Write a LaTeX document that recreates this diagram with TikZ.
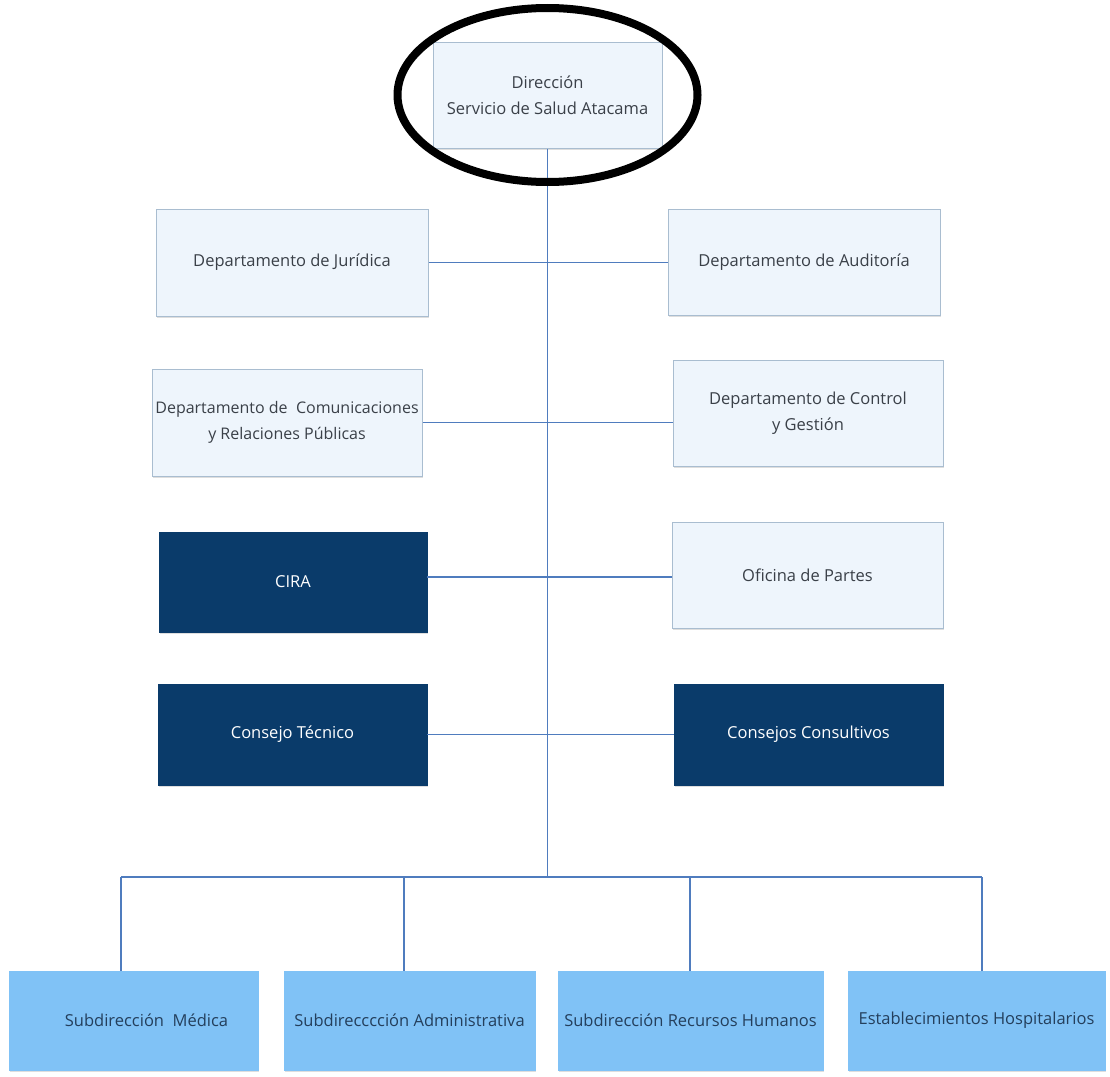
\documentclass[tikz,border=0pt]{standalone}
\usepackage{fontspec}
\setmainfont{Open Sans}
\usetikzlibrary{shadows}
\definecolor{lightfill}{HTML}{EEF5FC}
\definecolor{lightdraw}{HTML}{A9BDD0}
\definecolor{navy}{HTML}{0A3B6A}
\definecolor{skyfill}{HTML}{80C2F6}
\definecolor{linkblue}{HTML}{4F7CBE}
\definecolor{txtgray}{HTML}{3A4048}
\definecolor{txtblue}{HTML}{243F5C}
\tikzset{
  box/.style={rectangle, inner sep=2pt, align=center, font=\fontsize{16.5}{26}\selectfont,
    drop shadow={shadow xshift=1pt, shadow yshift=-2pt, fill=black!25, opacity=0.5}},
  lightbox/.style={box, fill=lightfill, draw=lightdraw, line width=1pt, text=txtgray},
  darkbox/.style={box, fill=navy, draw=navy, text=white},
  subbox/.style={box, fill=skyfill, draw=skyfill, text=txtblue},
  link/.style={draw=linkblue, line width=1.6pt},
  ring/.style={draw=black, line width=8pt}
}
\begin{document}
\begin{tikzpicture}[x=1pt,y=-1pt]
\fill[white] (0,0) rectangle (1110,1076);
\useasboundingbox (0,0) rectangle (1110,1076);

\node[lightbox, minimum width=229pt, minimum height=106pt] (dir) at (547.5,95) {Dirección\\Servicio de Salud Atacama};

\node[lightbox, minimum width=272pt, minimum height=107pt] (jur) at (292,262.5) {Departamento de Jurídica};
\node[lightbox, minimum width=272pt, minimum height=106pt] (aud) at (804,262) {Departamento de Auditoría};
\node[lightbox, minimum width=270pt, minimum height=107pt, inner xsep=0pt, font=\fontsize{16}{26}\selectfont] (com) at (287,422.5) {Departamento de\ \ Comunicaciones\\y Relaciones Públicas};
\node[lightbox, minimum width=270pt, minimum height=106pt] (ctl) at (808,413) {Departamento de Control\\y Gestión};
\node[darkbox, minimum width=268pt, minimum height=100pt] (cira) at (293,582) {CIRA};
\node[lightbox, minimum width=271pt, minimum height=106pt] (ofi) at (807.5,575) {Oficina de Partes};
\node[darkbox, minimum width=269pt, minimum height=101pt] (tec) at (292.5,734.5) {Consejo Técnico};
\node[darkbox, minimum width=269pt, minimum height=101pt] (cons) at (808.5,734.5) {Consejos Consultivos};

\node[subbox, minimum width=249pt, minimum height=99pt] (b1) at (133.5,1020.5) {\hspace*{26pt}Subdirección\ \ Médica};
\node[subbox, minimum width=251pt, minimum height=99pt] (b2) at (409.5,1020.5) {Subdirecccción Administrativa};
\node[subbox, minimum width=265pt, minimum height=99pt] (b3) at (690.5,1020.5) {Subdirección Recursos Humanos};
\node[subbox, minimum width=257pt, minimum height=99pt] (b4) at (976.5,1020.5) {Establecimientos Hospitalarios};

\coordinate (bus) at (547.5,877);
\coordinate (d1) at (121,877);
\coordinate (d2) at (404,877);
\coordinate (d3) at (690,877);
\coordinate (d4) at (982,877);

\draw[link] (dir.south) -- (bus);
\draw[link] (jur.east) -- (aud.west |- jur.east);
\draw[link] (com.east) -- (ctl.west |- com.east);
\draw[link] (cira.east |- 0,577) -- (ofi.west |- 0,577);
\draw[link] (tec.east) -- (cons.west);
\draw[link] (d1) -- (d4);
\draw[link] (d1) -- (d1 |- b1.north);
\draw[link] (d2) -- (d2 |- b2.north);
\draw[link] (d3) -- (d3 |- b3.north);
\draw[link] (d4) -- (d4 |- b4.north);

\draw[ring] (dir.center) ellipse [x radius=150pt, y radius=87pt];
\end{tikzpicture}
\end{document}
